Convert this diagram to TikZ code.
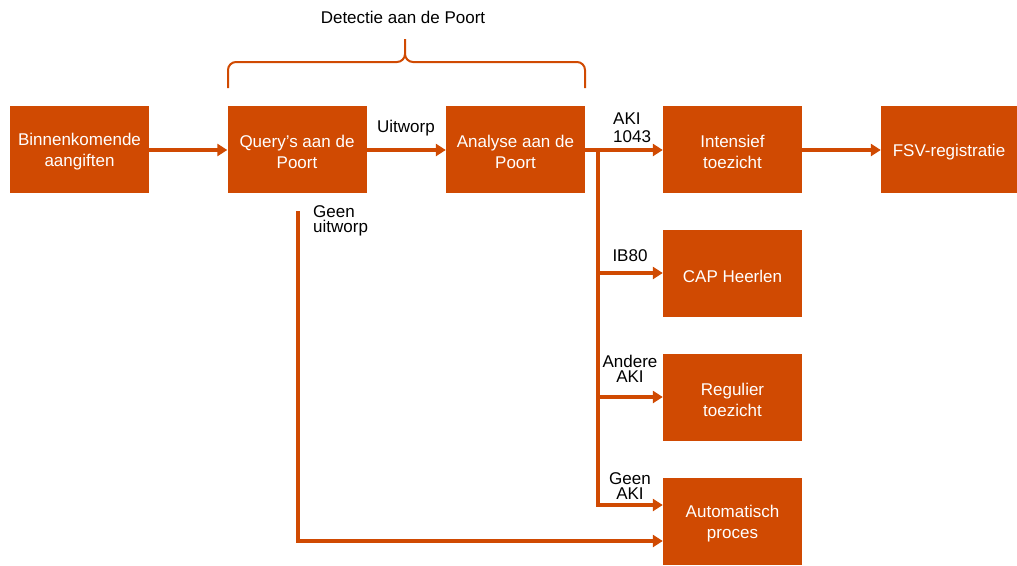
\documentclass[tikz,border=0pt]{standalone}
\usepackage{fontspec}
\setmainfont{Liberation Sans}
\usetikzlibrary{arrows.meta}
\definecolor{pwc}{RGB}{208,74,2}
\begin{document}
\begin{tikzpicture}[x=1pt,y=-1pt,
 box/.style={draw=none,fill=pwc,minimum width=139pt,minimum height=87pt,inner sep=0pt},
 txt/.style={text=white,inner sep=0pt,align=center,font=\fontsize{17}{21}\selectfont,yshift=-2.5pt},
 lbl/.style={text=black,inner sep=0pt,font=\fontsize{17}{15.5}\selectfont},
 conn/.style={draw=pwc,line width=3.2pt,-{Triangle[length=10pt,width=12pt]}},
 wire/.style={draw=pwc,line width=3.2pt},
 brace/.style={draw=pwc,line width=2pt}]
\useasboundingbox (0,0) rectangle (1017,565);
\node[box,label={[txt]center:Binnenkomende\\aangiften}] (bin) at (79.5,149.5) {};
\node[box,label={[txt]center:Query’s aan de\\Poort}] (query) at (297,149.5) {};
\node[box,label={[txt]center:Analyse aan de\\Poort}] (analyse) at (515.5,149.5) {};
\node[box,label={[txt]center:Intensief\\toezicht}] (intens) at (732.5,149.5) {};
\node[box,minimum width=136pt,label={[txt]center:FSV-registratie}] (fsv) at (949,149.5) {};
\node[box,label={[txt]center:CAP Heerlen}] (cap) at (732.5,273.5) {};
\node[box,label={[txt]center:Regulier\\toezicht}] (reg) at (732.5,397) {};
\node[box,label={[txt]center:Automatisch\\proces}] (auto) at (732.5,521.5) {};

\node[lbl] (detectie) at (403,17) {Detectie aan de Poort};
\node[lbl] (uitworp) at (406,128) {Uitworp};
\node[lbl,align=left,anchor=west,font=\fontsize{17}{18}\selectfont] (aki1043) at (613,128) {AKI\\1043};
\node[lbl] (ib80) at (630,256) {IB80};
\node[lbl,align=center] (andere) at (630,369) {Andere\\AKI};
\node[lbl,align=center] (geenaki) at (630,486) {Geen\\AKI};
\node[lbl,align=left,anchor=west] (geenuit) at (313,221) {Geen\\uitworp};

\coordinate (j1) at (598,150);
\coordinate (j2) at (598,273);
\coordinate (j3) at (598,397);
\coordinate (j4) at (598,505);
\coordinate (q1) at (298,211);
\coordinate (q2) at (298,541);

\draw[conn] (bin.east |- j1) -- (query.west |- j1);
\draw[conn] (query.east |- j1) -- (analyse.west |- j1);
\draw[wire] (analyse.east |- j1) -- (j1);
\draw[conn] (j1) -- (intens.west |- j1);
\draw[conn] (intens.east |- j1) -- (fsv.west |- j1);
\draw[conn,line join=miter] (j1) -- (j4) -- (j4 -| auto.west);
\draw[conn] (j2) -- (j2 -| cap.west);
\draw[conn] (j3) -- (j3 -| reg.west);
\draw[conn,line join=miter] (q1) -- (q2) -- (q2 -| auto.west);

\draw[brace] (228,88) -- (228,70) to[out=90,in=180] (236,62) -- (397,62)
  to[out=0,in=-90] (405,54) -- (405,39);
\draw[brace] (585,88) -- (585,70) to[out=90,in=0] (577,62) -- (413,62)
  to[out=180,in=-90] (405,54);
\end{tikzpicture}
\end{document}
